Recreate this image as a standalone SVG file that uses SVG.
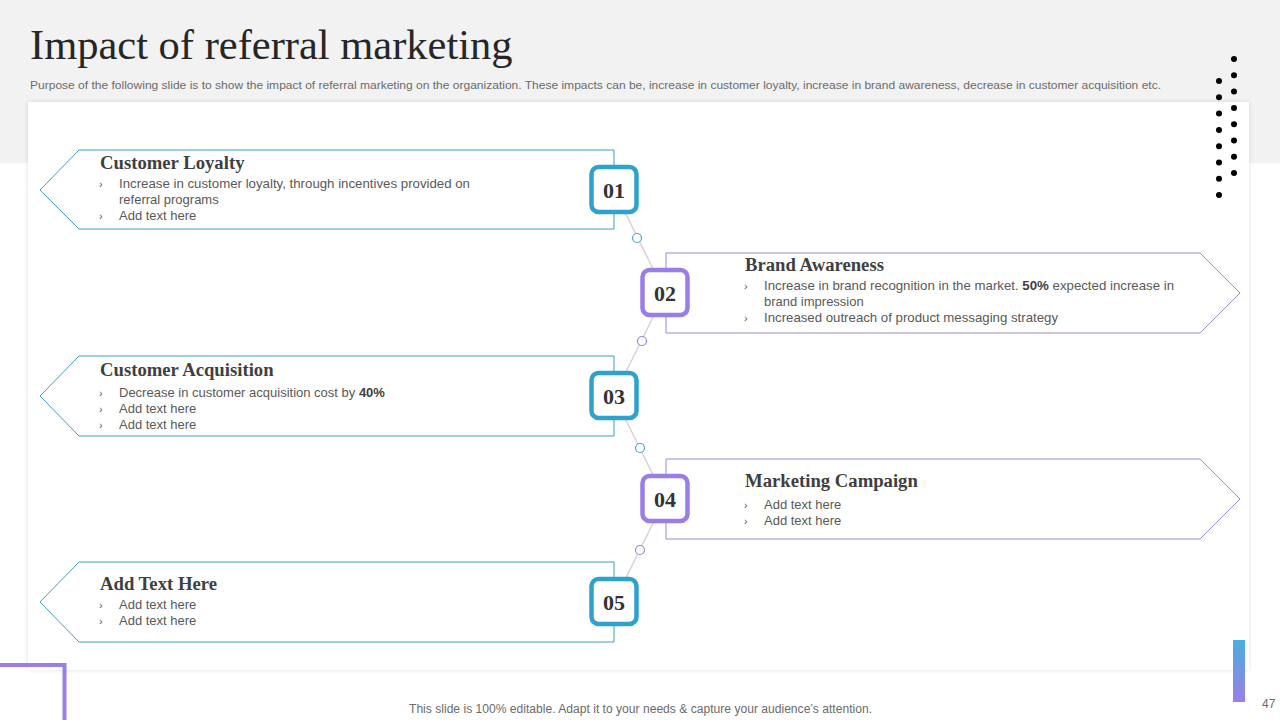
<svg xmlns="http://www.w3.org/2000/svg" width="1280" height="720" viewBox="0 0 1280 720">
<defs>
<linearGradient id="barGrad" x1="0" y1="0" x2="0" y2="1">
<stop offset="0" stop-color="#4aaede"/>
<stop offset="1" stop-color="#9b7ee8"/>
</linearGradient>
<filter id="shadow" x="-5%" y="-5%" width="110%" height="110%">
<feDropShadow dx="0" dy="0" stdDeviation="2" flood-color="#000" flood-opacity="0.12"/>
</filter>
</defs>
<style>
.title{font-family:"Liberation Serif",serif;font-size:42.5px;fill:#262626}
.sub{font-family:"Liberation Sans",Arial,sans-serif;font-size:11.5px;fill:#6b6b6b}
.head{font-family:"Liberation Serif",serif;font-size:18.7px;font-weight:bold;fill:#3f3f3f}
.txt{font-family:"Liberation Sans",Arial,sans-serif;font-size:13px;fill:#595959}
.bul{font-family:"Liberation Sans",Arial,sans-serif;font-size:11px;fill:#595959}
.b{font-weight:bold;fill:#404040}
.num{font-family:"Liberation Serif",serif;font-size:22px;font-weight:bold;fill:#333;text-anchor:middle}
.shpB{fill:#fff;stroke:#3f9fc2;stroke-width:1}
.shpP{fill:#fff;stroke:#9a8ccc;stroke-width:1}
.boxB{fill:#fff;stroke:#2ea2cd;stroke-width:4.5}
.boxP{fill:#fff;stroke:#9a7de6;stroke-width:4.5}
.conn{stroke:#ddcfd6;stroke-width:1.5;fill:none}
.cB{fill:#fff;stroke:#4aa8d0;stroke-width:1.2}
.cP{fill:#fff;stroke:#9a83d8;stroke-width:1.2}
.foot{font-family:"Liberation Sans",Arial,sans-serif;font-size:12px;fill:#6b6b6b}
</style>
<rect x="0" y="0" width="1280" height="720" fill="#fff"/>
<rect x="0" y="0" width="1280" height="163" fill="#f2f2f2"/>
<rect x="28" y="102" width="1221" height="568" fill="#fff" filter="url(#shadow)"/>
<text class="title" x="30" y="59">Impact of referral marketing</text>
<text class="sub" x="30" y="89" textLength="1131" lengthAdjust="spacingAndGlyphs">Purpose of the following slide is to show the impact of referral marketing on the organization. These impacts can be, increase in customer loyalty, increase in brand awareness, decrease in customer acquisition etc.</text>
<g id="dots" fill="#000">
<circle cx="1234" cy="59" r="3"/><circle cx="1234" cy="75.3" r="3"/><circle cx="1234" cy="91.6" r="3"/><circle cx="1234" cy="107.9" r="3"/><circle cx="1234" cy="124.2" r="3"/><circle cx="1234" cy="140.5" r="3"/><circle cx="1234" cy="156.8" r="3"/><circle cx="1234" cy="173" r="3"/>
<circle cx="1219" cy="81" r="3"/><circle cx="1219" cy="97.3" r="3"/><circle cx="1219" cy="113.6" r="3"/><circle cx="1219" cy="129.9" r="3"/><circle cx="1219" cy="146.2" r="3"/><circle cx="1219" cy="162.5" r="3"/><circle cx="1219" cy="178.8" r="3"/><circle cx="1219" cy="195" r="3"/>
</g>
<g id="connectors">
<line class="conn" x1="614" y1="190" x2="665" y2="293"/>
<line class="conn" x1="665" y1="293" x2="614" y2="396"/>
<line class="conn" x1="614" y1="396" x2="665" y2="499"/>
<line class="conn" x1="665" y1="499" x2="614" y2="602"/>
<circle class="cB" cx="637" cy="238" r="4.5"/>
<circle class="cP" cx="642" cy="341" r="4.5"/>
<circle class="cB" cx="640" cy="448" r="4.5"/>
<circle class="cP" cx="640" cy="550" r="4.5"/>
</g>
<g id="node1">
<polygon class="shpB" points="40,190 79,150 614,150 614,229 79,229"/>
<text class="head" x="100" y="169">Customer Loyalty</text>
<text class="bul" x="99" y="188">›</text>
<text class="txt" x="119" y="188" textLength="351" lengthAdjust="spacingAndGlyphs">Increase in customer loyalty, through incentives provided on</text>
<text class="txt" x="119" y="204">referral  programs</text>
<text class="bul" x="99" y="220">›</text>
<text class="txt" x="119" y="220">Add text here</text>
<rect class="boxB" x="591.5" y="167" width="45" height="45" rx="7"/>
<text class="num" x="614" y="198">01</text>
</g>
<g id="node2">
<polygon class="shpP" points="666,253 1200,253 1240,293 1200,333 666,333"/>
<text class="head" x="745" y="271">Brand Awareness</text>
<text class="bul" x="744" y="290">›</text>
<text class="txt" x="764" y="290" textLength="410" lengthAdjust="spacingAndGlyphs">Increase in brand recognition in the market. <tspan class="b">50%</tspan> expected increase in</text>
<text class="txt" x="764" y="306">brand impression</text>
<text class="bul" x="744" y="322">›</text>
<text class="txt" x="764" y="322" textLength="294" lengthAdjust="spacingAndGlyphs">Increased outreach of product messaging strategy</text>
<rect class="boxP" x="642.5" y="270" width="45" height="45" rx="7"/>
<text class="num" x="665" y="301">02</text>
</g>
<g id="node3">
<polygon class="shpB" points="40,396 79,356 614,356 614,436 79,436"/>
<text class="head" x="100" y="376">Customer Acquisition</text>
<text class="bul" x="99" y="397">›</text>
<text class="txt" x="119" y="397">Decrease in customer acquisition cost by <tspan class="b">40%</tspan></text>
<text class="bul" x="99" y="413">›</text>
<text class="txt" x="119" y="413">Add text here</text>
<text class="bul" x="99" y="429">›</text>
<text class="txt" x="119" y="429">Add text here</text>
<rect class="boxB" x="591.5" y="373" width="45" height="45" rx="7"/>
<text class="num" x="614" y="404">03</text>
</g>
<g id="node4">
<polygon class="shpP" points="666,459 1200,459 1240,499 1200,539 666,539"/>
<text class="head" x="745" y="487">Marketing Campaign</text>
<text class="bul" x="744" y="509">›</text>
<text class="txt" x="764" y="509">Add text here</text>
<text class="bul" x="744" y="525">›</text>
<text class="txt" x="764" y="525">Add text here</text>
<rect class="boxP" x="642.5" y="476" width="45" height="45" rx="7"/>
<text class="num" x="665" y="507">04</text>
</g>
<g id="node5">
<polygon class="shpB" points="40,602 79,562 614,562 614,642 79,642"/>
<text class="head" x="100" y="590">Add Text Here</text>
<text class="bul" x="99" y="609">›</text>
<text class="txt" x="119" y="609">Add text here</text>
<text class="bul" x="99" y="625">›</text>
<text class="txt" x="119" y="625">Add text here</text>
<rect class="boxB" x="591.5" y="579" width="45" height="45" rx="7"/>
<text class="num" x="614" y="610">05</text>
</g>
<path d="M0,665 H64.5 V720" fill="none" stroke="#9b7ee8" stroke-width="4"/>
<rect x="1233" y="640" width="12" height="62" fill="url(#barGrad)"/>
<text class="foot" x="1262" y="708" font-size="11">47</text>
<text class="foot" x="409" y="713" textLength="463" lengthAdjust="spacingAndGlyphs">This slide is 100% editable. Adapt it to your needs &amp; capture your audience’s attention.</text>
</svg>
